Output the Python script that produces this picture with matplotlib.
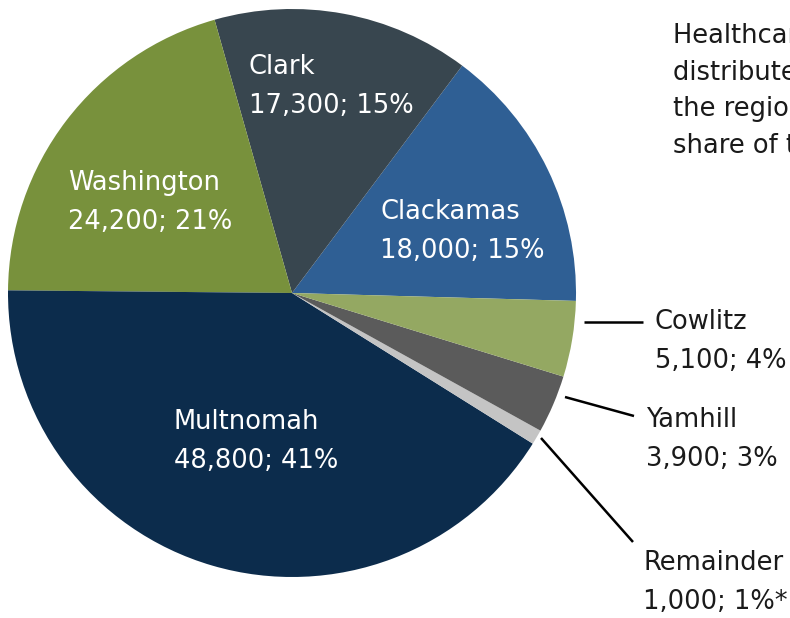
import matplotlib
matplotlib.use('Agg')
import matplotlib.pyplot as plt

# data (counterclockwise from the right)
counties = ['Clackamas', 'Clark', 'Washington', 'Multnomah', 'Remainder', 'Yamhill', 'Cowlitz']
jobs = [18000, 17300, 24200, 48800, 1000, 3900, 5100]
pcts = ['15%', '15%', '21%', '41%', '1%*', '3%', '4%']
colors = ['#2f5f94', '#38464f', '#78913c', '#0c2c4c', '#c4c4c4', '#5b5b5b', '#94a862']

W, H = 790, 618
fig = plt.figure(figsize=(W / 100, H / 100), dpi=100)
ax = fig.add_axes([0, 0, 1, 1])

ax.pie(jobs, colors=colors, startangle=-1.6, center=(292, H - 293), radius=284,
       counterclock=True, wedgeprops=dict(linewidth=0))
ax.set_xlim(0, W)
ax.set_ylim(0, H)
ax.set_aspect('equal')
ax.axis('off')

fs = 18.5
# label positions in pixel coords (left x, baseline of first line)
inside = {'Clark': (249, 74), 'Washington': (68, 190), 'Clackamas': (380, 219), 'Multnomah': (174, 429)}
outside = {'Cowlitz': (655, 329), 'Yamhill': (646, 427), 'Remainder': (643, 570)}

for name, v, p in zip(counties, jobs, pcts):
    if name in inside:
        x, y = inside[name]
        c = 'white'
    else:
        x, y = outside[name]
        c = '#1a1a1a'
    ax.text(x, H - y, name, fontsize=fs, color=c, va='baseline', ha='left')
    ax.text(x, H - y - 39, f'{v:,}; {p}', fontsize=fs, color=c, va='baseline', ha='left')

# leader lines
leaders = [((584, 322), (643, 322)), ((565, 397), (634, 416)), ((541, 438), (633, 542))]
for (x0, y0), (x1, y1) in leaders:
    ax.plot([x0, x1], [H - y0, H - y1], color='black', lw=1.8, solid_capstyle='butt')

# side note (runs off the right edge)
note = ['Healthcare employment is', 'distributed throughout', 'the region, with the largest',
        'share of total jobs in Multnomah']
for i, line in enumerate(note):
    ax.text(673, H - 43 - i * 36.7, line, fontsize=fs, color='#1a1a1a', va='baseline', ha='left')

fig.savefig('out.png', dpi=100)
